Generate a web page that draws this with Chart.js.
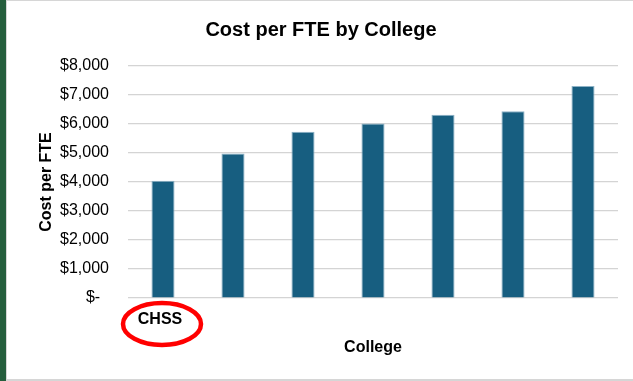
<!DOCTYPE html>
<html><head><meta charset="utf-8">
<script src="https://cdn.jsdelivr.net/npm/chart.js@4.4.1/dist/chart.umd.min.js"></script>
<style>
  html, body { margin: 0; padding: 0; background: #fff; }
  #wrap { position: relative; width: 633px; height: 381px; }
</style>
</head>
<body>
<div id="wrap"><canvas id="chart" width="633" height="381"></canvas></div>
<script>
// Cost per FTE for each college (only the first category is named)
const colleges = ['CHSS', '', '', '', '', '', ''];
const costPerFte = [4040, 4985, 5730, 6020, 6320, 6440, 7310];
const yTickLabels = ['$-  ', '$1,000', '$2,000', '$3,000', '$4,000', '$5,000', '$6,000', '$7,000', '$8,000'];

const SANS = '"Liberation Sans", Arial, sans-serif';

// Sheet chrome around the chart: green strip on the left, thin grey frame lines
const frame = {
  id: 'frame',
  beforeDraw(chart) {
    const { ctx, width, height } = chart;
    ctx.save();
    ctx.fillStyle = '#ffffff';
    ctx.fillRect(0, 0, width, height);
    ctx.fillStyle = '#255e3d';
    ctx.fillRect(0, 0, 6, height);
    ctx.fillStyle = '#d6d6d6';
    ctx.fillRect(6, 0, 1, height);
    ctx.fillRect(6, 0, width - 6, 1);
    ctx.fillRect(6, height - 2, width - 6, 2);
    ctx.restore();
  }
};

// Red ring highlighting the first category label
const highlight = {
  id: 'highlight',
  afterDraw(chart) {
    const x = chart.scales.x;
    const cx = x.getPixelForValue(0) - 1;
    const cy = chart.chartArea.bottom + 26;
    const { ctx } = chart;
    ctx.save();
    ctx.strokeStyle = '#ff0000';
    ctx.lineWidth = 4.5;
    ctx.beginPath();
    ctx.ellipse(cx, cy, 39, 21, 0, 0, Math.PI * 2);
    ctx.stroke();
    ctx.restore();
  }
};

new Chart(document.getElementById('chart'), {
  type: 'bar',
  data: {
    labels: colleges,
    datasets: [{
      data: costPerFte,
      backgroundColor: '#175e80',
      borderColor: '#8db2c6',
      borderWidth: 1,
      categoryPercentage: 1,
      barPercentage: 0.33
    }]
  },
  options: {
    responsive: false,
    animation: false,
    layout: { padding: { left: 24, right: 15, top: 0, bottom: 20 } },
    plugins: {
      legend: { display: false },
      tooltip: { enabled: false },
      title: {
        display: true,
        text: 'Cost per FTE by College',
        color: '#000000',
        font: { family: SANS, size: 20, weight: 'bold' },
        padding: { top: 18, bottom: 24 }
      }
    },
    scales: {
      x: {
        grid: { display: false, drawTicks: false },
        border: { display: false },
        ticks: {
          color: '#000000',
          padding: 12,
          labelOffset: -3,
          maxRotation: 0,
          autoSkip: false,
          font: { family: SANS, size: 16, weight: 'bold' }
        },
        title: {
          display: true,
          text: 'College',
          color: '#000000',
          font: { family: SANS, size: 16, weight: 'bold' },
          padding: { top: 4, bottom: 4 }
        },
        afterFit(scale) { scale.height = 63; }
      },
      y: {
        min: 0,
        max: 8000,
        grid: { color: '#d4d4d4', lineWidth: 1.2, drawTicks: false },
        border: { display: false },
        ticks: {
          stepSize: 1000,
          padding: 19,
          color: '#000000',
          font: { family: SANS, size: 16 },
          callback: (value, index) => yTickLabels[index]
        },
        title: {
          display: true,
          text: 'Cost per FTE',
          color: '#000000',
          font: { family: SANS, size: 16, weight: 'bold' },
          padding: { top: 13, bottom: 4 }
        },
        afterFit(scale) { scale.width = 104; }
      }
    }
  },
  plugins: [frame, highlight]
});
</script>
</body></html>
